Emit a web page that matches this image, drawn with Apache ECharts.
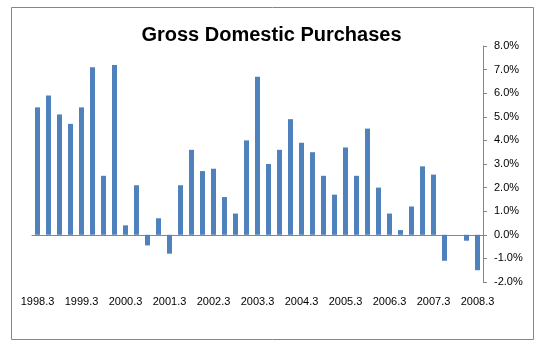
<!DOCTYPE html>
<html>
<head>
<meta charset="utf-8">
<script src="https://cdn.jsdelivr.net/npm/echarts@6/dist/echarts.min.js"></script>
<style>
html, body { margin: 0; padding: 0; background: #fff; }
#chart { width: 543px; height: 353px; }
</style>
</head>
<body>
<div id="chart"></div>
<script>
// 季度 (quarter labels, only every 4th shown)
const quarters = [
  '1998.3', '1998.4', '1999.1', '1999.2',
  '1999.3', '1999.4', '2000.1', '2000.2',
  '2000.3', '2000.4', '2001.1', '2001.2',
  '2001.3', '2001.4', '2002.1', '2002.2',
  '2002.3', '2002.4', '2003.1', '2003.2',
  '2003.3', '2003.4', '2004.1', '2004.2',
  '2004.3', '2004.4', '2005.1', '2005.2',
  '2005.3', '2005.4', '2006.1', '2006.2',
  '2006.3', '2006.4', '2007.1', '2007.2',
  '2007.3', '2007.4', '2008.1', '2008.2',
  '2008.3'
]
// percent change
const purchases = [
  5.4, 5.9, 5.1, 4.7,
  5.4, 7.1, 2.5, 7.2,
  0.4, 2.1, -0.45, 0.7,
  -0.8, 2.1, 3.6, 2.7,
  2.8, 1.6, 0.9, 4.0,
  6.7, 3.0, 3.6, 4.9,
  3.9, 3.5, 2.5, 1.7,
  3.7, 2.5, 4.5, 2.0,
  0.9, 0.2, 1.2, 2.9,
  2.55, -1.1, 0, -0.25,
  -1.5
]
const yMin = -2
const yMax = 8
const yStep = 1

const axisGray = '#868686'
const barBlue = '#4f81bd'
const font = 'Liberation Sans, Arial, sans-serif'

const chart = echarts.init(document.getElementById('chart'))
chart.setOption({
  animation: false,
  title: {
    text: 'Gross Domestic Purchases',
    left: 'center',
    top: 20,
    textStyle: { fontFamily: font, fontSize: 20, fontWeight: 'bold', color: '#000' }
  },
  graphic: [
    {
      type: 'rect',
      shape: { x: 11.5, y: 7.5, width: 522, height: 332 },
      style: { fill: 'none', stroke: axisGray, lineWidth: 1 },
      silent: true
    }
  ],
  grid: { left: 32, right: 60, top: 46, bottom: 71 },
  xAxis: [
    {
      // 零线 + 刻度
      type: 'category',
      data: quarters,
      position: 'top',
      axisLine: { onZero: true, lineStyle: { color: axisGray, width: 1 } },
      axisTick: { inside: true, length: 5, interval: 3, lineStyle: { color: axisGray } },
      axisLabel: { show: false },
      splitLine: { show: false }
    },
    {
      // 底部标签
      type: 'category',
      data: quarters,
      position: 'bottom',
      axisLine: { show: false, onZero: false },
      axisTick: { show: false },
      axisLabel: {
        interval: 3,
        margin: 14,
        fontFamily: font,
        fontSize: 11,
        color: '#000'
      },
      splitLine: { show: false }
    }
  ],
  yAxis: {
    type: 'value',
    position: 'right',
    min: yMin,
    max: yMax,
    interval: yStep,
    axisLine: { show: true, lineStyle: { color: axisGray, width: 1 } },
    axisTick: { show: true, length: 4, lineStyle: { color: axisGray } },
    axisLabel: {
      margin: 11,
      fontFamily: font,
      fontSize: 11,
      color: '#000',
      formatter: v => v.toFixed(1) + '%'
    },
    splitLine: { show: false }
  },
  series: [
    {
      type: 'bar',
      xAxisIndex: 0,
      data: purchases,
      barWidth: 5,
      itemStyle: { color: barBlue }
    }
  ]
})
</script>
</body>
</html>
